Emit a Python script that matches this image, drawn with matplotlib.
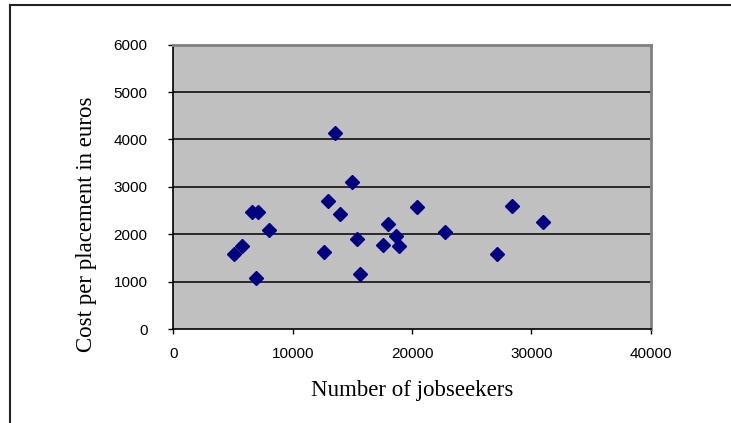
import matplotlib
matplotlib.use('Agg')
import matplotlib.pyplot as plt

# jobseekers per office vs. cost of one placement
jobseekers = [13550, 14950, 12940, 13970, 6620, 7120, 8020, 5730, 5090, 6930, 12630,
              15420, 15670, 18020, 18640, 17570, 18940, 20390, 22770, 28350, 30950, 27100]
cost = [4130, 3100, 2700, 2420, 2465, 2465, 2090, 1755, 1580, 1085, 1620,
        1895, 1155, 2225, 1960, 1780, 1755, 2565, 2055, 2600, 2260, 1585]

x_ticks = [0, 10000, 20000, 30000, 40000]
y_ticks = [0, 1000, 2000, 3000, 4000, 5000, 6000]

fig = plt.figure(figsize=(7.31, 4.23), dpi=100)
ax = fig.add_axes([0.2371, 0.2222, 0.6531, 0.6721])

# outer frame, only the top and left edges show
fig.add_artist(plt.Line2D([10/731, 10/731], [0, 1 - 5/423], color='#222222', lw=1.5))
fig.add_artist(plt.Line2D([10/731, 1], [1 - 5/423, 1 - 5/423], color='#222222', lw=1.5))

ax.set_facecolor('#C0C0C0')
ax.set_xlim(0, 40000)
ax.set_ylim(0, 6000)
ax.set_xticks(x_ticks)
ax.set_yticks(y_ticks)
ax.set_xticklabels([str(t) for t in x_ticks], family='Liberation Sans', fontsize=11)
ax.set_yticklabels([str(t) for t in y_ticks], family='Liberation Sans', fontsize=11)
ax.tick_params(direction='out', length=3.6, width=1)
ax.tick_params(axis='x', pad=9)
ax.tick_params(axis='y', pad=15)

for g in y_ticks[1:-1]:
    ax.axhline(g, color='black', lw=1.1, zorder=1)

for side in ['top', 'right']:
    ax.spines[side].set_color('#808080')
    ax.spines[side].set_linewidth(2)
for side in ['left', 'bottom']:
    ax.spines[side].set_color('black')
    ax.spines[side].set_linewidth(1.2)

ax.plot(jobseekers, cost, 'D', color='#000080', markersize=7.5, zorder=3)

ax.set_xlabel('Number of jobseekers', family='Liberation Serif', fontsize=16.5)
ax.set_ylabel('Cost per placement in euros', family='Liberation Serif', fontsize=16.5)
ax.xaxis.set_label_coords(0.5, -0.218)
ax.yaxis.set_label_coords(-0.181, 0.37)
ax.xaxis.label.set_va('center')
ax.yaxis.label.set_va('center')

fig.savefig('out.png', dpi=100)
